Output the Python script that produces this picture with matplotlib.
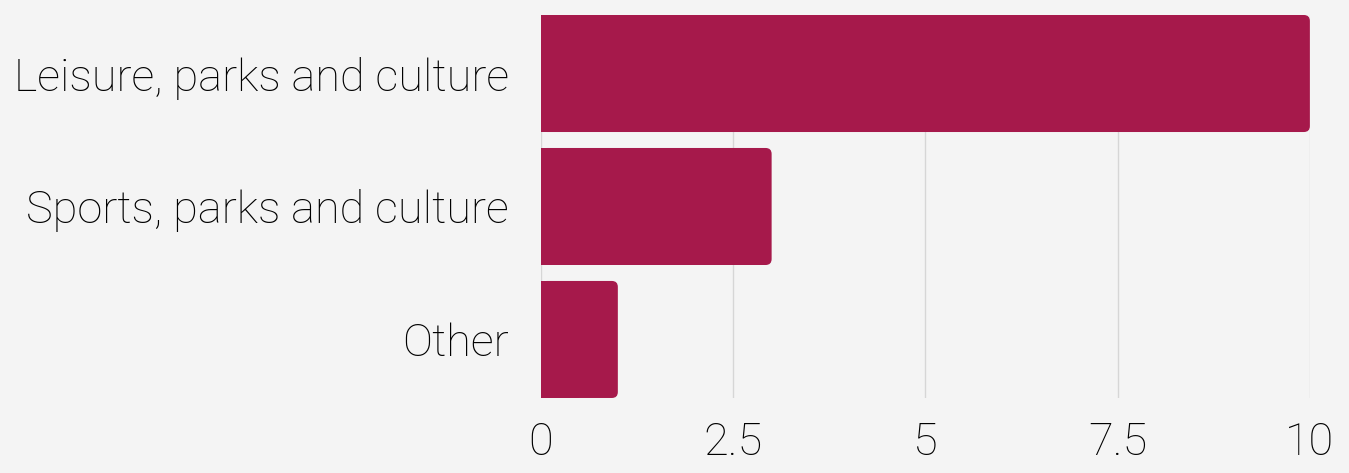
import matplotlib
matplotlib.use("Agg")
import matplotlib.pyplot as plt
from matplotlib.patches import FancyBboxPatch

categories = ["Leisure, parks and culture", "Sports, parks and culture", "Other"]
values = [10, 3, 1]
xticks = [0, 2.5, 5, 7.5, 10]
xtick_labels = ["0", "2.5", "5", "7.5", "10"]

BG = "#f4f4f4"
BAR = "#a6194b"

plt.rcParams["font.family"] = ["Roboto", "DejaVu Sans"]

fig = plt.figure(figsize=(13.49, 4.73), dpi=100, facecolor=BG)
ax = fig.add_axes([0.401, 0.1586, 0.570, 0.8097], facecolor=BG)

height = 0.88
ys = list(range(len(categories)))
ax.set_xlim(0, 10)
ax.set_ylim(len(categories) - 1 + height / 2, -height / 2)

# px per data unit, used to keep the corner radius round
px_x = 0.570 * 1349 / 10
px_y = 0.8097 * 473 / (len(categories) - 1 + height)
r = 6 / px_x
aspect = (6 / px_y) / r

for y, v in zip(ys, values):
    ax.add_patch(FancyBboxPatch((0, y - height / 2), v, height,
                                boxstyle=f"round,pad=0,rounding_size={r}",
                                mutation_aspect=aspect, facecolor=BAR,
                                edgecolor="none", zorder=3))
ax.barh(ys, [v / 2 for v in values], height=height, color=BAR, zorder=3)

ax.set_xticks(xticks)
ax.set_xticklabels(xtick_labels)
ax.set_yticks(ys)
ax.set_yticklabels(categories)
ax.tick_params(axis="x", length=0, pad=17, labelsize=32.5, labelcolor="#000000")
ax.tick_params(axis="y", length=0, pad=23, labelsize=32.5, labelcolor="#000000")
for lbl in ax.get_xticklabels() + ax.get_yticklabels():
    lbl.set_fontweight("light")
ax.grid(axis="x", color="#d6d6d6", linewidth=1, zorder=0)
for s in ax.spines.values():
    s.set_visible(False)

fig.savefig("out.png", dpi=100, facecolor=BG)
